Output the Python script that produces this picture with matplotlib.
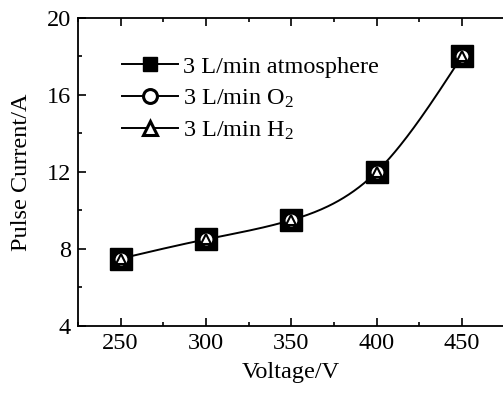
import numpy as np
import matplotlib
matplotlib.use('Agg')
import matplotlib.pyplot as plt
from matplotlib.lines import Line2D
from matplotlib.ticker import MultipleLocator

plt.rcParams['font.family'] = ['Liberation Serif', 'DejaVu Serif']
plt.rcParams['mathtext.fontset'] = 'custom'
plt.rcParams['mathtext.rm'] = 'Liberation Serif'
plt.rcParams['mathtext.it'] = 'Liberation Serif:italic'

voltage = np.array([250, 300, 350, 400, 450])
atmosphere = np.array([7.5, 8.5, 9.5, 12.0, 18.0])
oxygen = np.array([7.5, 8.5, 9.5, 12.0, 18.0])
hydrogen = np.array([7.5, 8.5, 9.5, 12.0, 18.0])
labels = ['3 L/min atmosphere', '3 L/min O$_2$', '3 L/min H$_2$']


def natural_spline(x, y, n=200):
    # natural cubic spline, just for the smooth connecting line
    k = len(x)
    h = np.diff(x)
    A = np.zeros((k, k))
    b = np.zeros(k)
    A[0, 0] = A[-1, -1] = 1
    for i in range(1, k - 1):
        A[i, i - 1] = h[i - 1]
        A[i, i] = 2 * (h[i - 1] + h[i])
        A[i, i + 1] = h[i]
        b[i] = 6 * ((y[i + 1] - y[i]) / h[i] - (y[i] - y[i - 1]) / h[i - 1])
    M = np.linalg.solve(A, b)
    xs = np.linspace(x[0], x[-1], n)
    idx = np.clip(np.searchsorted(x, xs) - 1, 0, k - 2)
    x0, x1 = x[idx], x[idx + 1]
    hh = x1 - x0
    t0 = x1 - xs
    t1 = xs - x0
    ys = (M[idx] * t0**3 / (6 * hh) + M[idx + 1] * t1**3 / (6 * hh)
          + (y[idx] / hh - M[idx] * hh / 6) * t0
          + (y[idx + 1] / hh - M[idx + 1] * hh / 6) * t1)
    return xs, ys


fig = plt.figure(figsize=(5.03, 3.94), dpi=100)
ax = fig.add_axes([0.155, 0.1726, 0.848, 0.782])

xs, ys = natural_spline(voltage.astype(float), atmosphere)
ax.plot(xs, ys, color='black', lw=1.4, zorder=2)
ax.plot(voltage, atmosphere, 's', ms=16, mfc='black', mec='black', zorder=3)
ax.plot(voltage, oxygen, 'o', ms=10, mfc='white', mec='black', mew=1.5, zorder=4)
ax.plot(voltage, hydrogen, '^', ms=7, mfc='white', mec='black', mew=1.5, zorder=5)

ax.set_xlim(225, 475)
ax.set_ylim(4, 20)
ax.xaxis.set_major_locator(MultipleLocator(50))
ax.xaxis.set_minor_locator(MultipleLocator(25))
ax.yaxis.set_major_locator(MultipleLocator(4))
ax.yaxis.set_minor_locator(MultipleLocator(2))
ax.tick_params(which='both', direction='in', top=True, right=False, labelsize=17.5, width=1.2)
ax.tick_params(which='major', length=6, pad=5)
ax.tick_params(which='minor', length=3)
for s in ax.spines.values():
    s.set_linewidth(1.3)

ax.set_xlabel('Voltage/V', fontsize=17.5, labelpad=6)
ax.set_ylabel('Pulse Current/A', fontsize=17.5)
ax.yaxis.set_label_coords(-0.108, 0.5)

handles = [
    Line2D([], [], color='black', lw=1.4, marker='s', ms=10, mfc='black', mec='black'),
    Line2D([], [], color='black', lw=1.4, marker='o', ms=10, mfc='white', mec='black', mew=2.2),
    Line2D([], [], color='black', lw=1.4, marker='^', ms=10, mfc='white', mec='black', mew=2.2),
]
ax.legend(handles, labels, loc='upper left', bbox_to_anchor=(0.103, 0.877), frameon=False,
          fontsize=17.5, handlelength=2.3, handletextpad=0.2, labelspacing=0.4,
          borderaxespad=0, borderpad=0)

fig.savefig('out.png', dpi=100)
